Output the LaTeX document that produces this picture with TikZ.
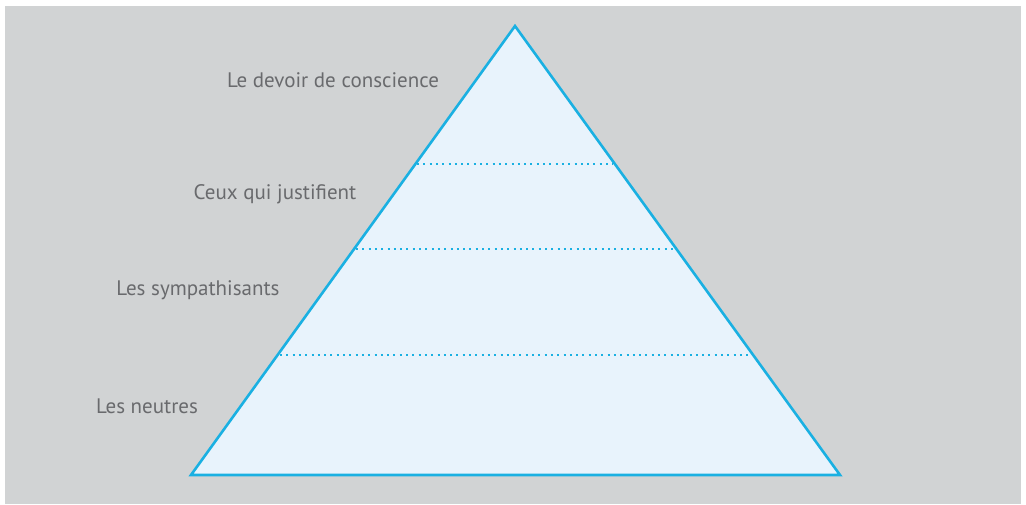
\documentclass[tikz,border=0pt]{standalone}
\usepackage{fontspec}
\setmainfont{PT Sans}
\usetikzlibrary{positioning}
\definecolor{bggray}{RGB}{209,211,212}
\definecolor{pyrblue}{RGB}{26,176,226}
\definecolor{pyrfill}{RGB}{232,243,252}
\definecolor{labelgray}{RGB}{105,106,109}

\tikzset{
    level/.style={font=\fontsize{21}{24}\selectfont, text=labelgray, inner sep=0pt},
    divider/.style={pyrblue, line width=2pt, dash pattern=on 2pt off 4.3pt}
}

\begin{document}
\begin{tikzpicture}[x=1pt, y=-1pt]
    \useasboundingbox (0,0) rectangle (1026,504);
    % background
    \fill[bggray] (5,6) rectangle (1021,504);

    % pyramid
    \coordinate (top) at (515,26);
    \coordinate (bl) at (191,475);
    \coordinate (br) at (840,475);
    \draw[line width=2.6pt, pyrblue, fill=pyrfill, line join=miter] (top) -- (bl) -- (br) -- cycle;

    % dotted levels
    \coordinate (l1a) at (417,164);  \coordinate (l1b) at (613,164);
    \coordinate (l2a) at (356,249);  \coordinate (l2b) at (674,249);
    \coordinate (l3a) at (280,355);  \coordinate (l3b) at (750,355);
    \draw[divider] (l1a) -- (l1b);
    \draw[divider] (l2a) -- (l2b);
    \draw[divider] (l3a) -- (l3b);

    % labels
    \node[level] (devoir) at (333,80) {Le devoir de conscience};
    \node[level] (justif) at (275,194) {Ceux qui justifient};
    \node[level] (sympa) at (198,290) {Les sympathisants};
    \node[level] (neutres) at (147,406) {Les neutres};
\end{tikzpicture}
\end{document}
